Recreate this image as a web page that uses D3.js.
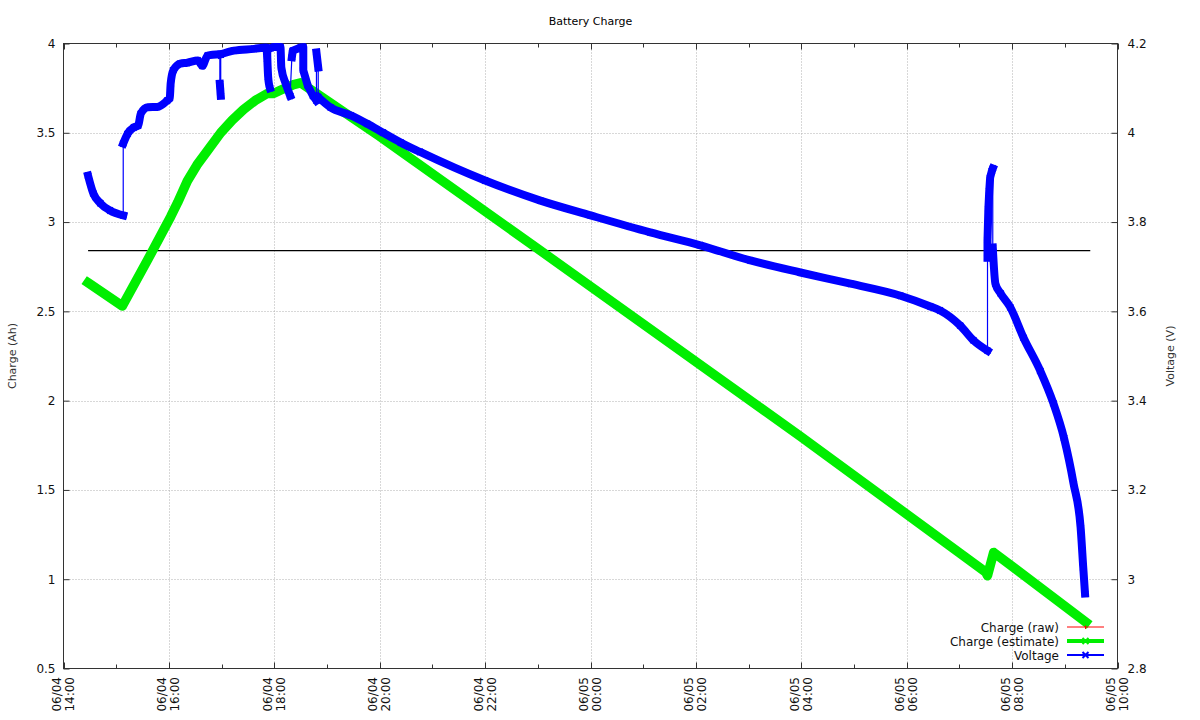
<!DOCTYPE html>
<html><head><meta charset="utf-8">
<script src="https://cdn.jsdelivr.net/npm/d3@7"></script>
<style>body{margin:0;background:#fff} svg{display:block} text{font-family:"DejaVu Sans",sans-serif}</style>
</head><body><svg id="c" width="1200" height="720"></svg>
<script>
// ---------- DATA ----------
const title = "Battery Charge";
const leftLabel = "Charge (Ah)";
const rightLabel = "Voltage (V)";
const leftTicks = [0.5, 1, 1.5, 2, 2.5, 3, 3.5, 4];
const rightTicks = [2.8, 3, 3.2, 3.4, 3.6, 3.8, 4, 4.2];
const xStart = "06/04 14:00";
const xEnd = "06/05 10:00";
const seriesNames = ["Charge (raw)", "Charge (estimate)", "Voltage"];

const rawTimes = ["06/04 14:28", "06/04 18:00", "06/04 22:00", "06/05 02:00", "06/05 06:00", "06/05 09:29"];
const rawCharge = [2.84, 2.84, 2.84, 2.84, 2.84, 2.84];

const estTimes = ["06/04 14:28","06/04 15:07","06/04 15:36","06/04 16:02","06/04 16:10","06/04 16:21","06/04 16:32","06/04 16:44","06/04 16:59","06/04 17:12","06/04 17:25","06/04 17:38","06/04 17:52","06/04 17:59","06/04 18:10","06/04 18:22","06/04 18:30","06/04 20:00","06/04 23:03","06/05 03:59","06/05 07:30","06/05 07:32","06/05 07:39","06/05 09:24"];
const estCharge = [2.66,2.53,2.79,3.03,3.11,3.23,3.32,3.40,3.50,3.57,3.63,3.68,3.72,3.72,3.745,3.77,3.78,3.48,2.84,1.80,1.04,1.02,1.15,0.76];

const voltTimes = [
 "06/04 14:28","06/04 14:34","06/04 14:42","06/04 14:53","06/04 15:08",
 "06/04 15:08","06/04 15:13","06/04 15:20","06/04 15:25","06/04 15:28","06/04 15:36","06/04 15:47","06/04 15:58","06/04 16:01","06/04 16:02","06/04 16:05","06/04 16:13","06/04 16:21","06/04 16:33","06/04 16:38","06/04 16:44","06/04 16:58",
 "06/04 16:58","06/04 16:59",
 "06/04 16:59","06/04 17:14","06/04 17:37","06/04 17:51","06/04 17:52","06/04 17:53","06/04 17:55",
 "06/04 17:56","06/04 18:00","06/04 18:07","06/04 18:08","06/04 18:13","06/04 18:18",
 "06/04 18:20","06/04 18:21","06/04 18:30","06/04 18:33","06/04 18:33","06/04 18:38","06/04 18:44","06/04 18:48",
 "06/04 18:48","06/04 18:50",
 "06/04 18:50","06/04 19:04","06/04 19:27","06/04 19:46","06/04 20:04","06/04 20:24","06/04 20:46","06/04 22:00","06/04 23:03","06/05 00:00","06/05 01:08","06/05 02:05","06/05 03:02","06/05 03:59","06/05 04:56","06/05 05:53","06/05 06:27","06/05 06:38","06/05 07:01","06/05 07:16","06/05 07:32",
 "06/05 07:32","06/05 07:32","06/05 07:33","06/05 07:34","06/05 07:35","06/05 07:37","06/05 07:38",
 "06/05 07:38","06/05 07:41","06/05 07:47","06/05 07:58","06/05 08:13","06/05 08:32","06/05 08:47","06/05 08:59","06/05 09:10","06/05 09:18","06/05 09:21","06/05 09:23"
];
const voltValues = [
 3.904,3.864,3.842,3.826,3.815,
 3.976,3.998,4.012,4.016,4.043,4.057,4.058,4.072,4.078,4.110,4.140,4.155,4.157,4.162,4.150,4.173,4.176,
 4.110,4.083,
 4.176,4.184,4.188,4.191,4.165,4.125,4.100,
 4.190,4.192,4.192,4.146,4.110,4.083,
 4.169,4.184,4.191,4.192,4.140,4.106,4.083,4.072,
 4.180,4.146,
 4.080,4.057,4.039,4.020,4.000,3.978,3.957,3.893,3.848,3.815,3.777,3.748,3.714,3.687,3.662,3.635,3.611,3.602,3.568,3.535,3.512,
 3.720,3.760,3.830,3.870,3.900,3.915,3.920,
 3.743,3.662,3.640,3.609,3.541,3.467,3.394,3.317,3.214,3.116,3.026,2.968
];
// indices where a new burst of samples begins (gap before it)
const voltBreaks = [5,22,24,31,37,45,47,68,75];

// ---------- CHART ----------
const parse = d3.timeParse("%m/%d %H:%M");
const L = 63.5, R = 1117.5, T = 43.5, B = 668.5;
const x = d3.scaleTime().domain([parse(xStart), parse(xEnd)]).range([L, R]);
const yL = d3.scaleLinear().domain([0.5, 4]).range([B, T]);
const yR = d3.scaleLinear().domain([2.8, 4.2]).range([B, T]);
const svg = d3.select("#c");
const BLUE = "#0000ff", GREEN = "#00ee00";

const raw = rawTimes.map((t, i) => ({t: parse(t), v: rawCharge[i]}));
const est = estTimes.map((t, i) => ({t: parse(t), v: estCharge[i]}));
const volt = voltTimes.map((t, i) => ({t: parse(t), v: voltValues[i]}));

const majorT = d3.timeHour.every(2).range(parse(xStart), d3.timeMinute.offset(parse(xEnd), 1));
const minorT = d3.timeHour.every(1).range(parse(xStart), d3.timeMinute.offset(parse(xEnd), 1));

// grid
const grid = svg.append("g").attr("stroke", "#b0b0b0").attr("stroke-width", 1).attr("stroke-dasharray", "1,2");
majorT.slice(1, -1).forEach(d => grid.append("line").attr("x1", Math.round(x(d)) + 0.5).attr("x2", Math.round(x(d)) + 0.5).attr("y1", T).attr("y2", B));
leftTicks.slice(1, -1).forEach(v => grid.append("line").attr("x1", L).attr("x2", R).attr("y1", Math.round(yL(v)) + 0.5).attr("y2", Math.round(yL(v)) + 0.5));

// frame
svg.append("rect").attr("x", L).attr("y", T).attr("width", R - L).attr("height", B - T)
  .attr("fill", "none").attr("stroke", "#333").attr("stroke-width", 1);

// x ticks (bottom and mirrored top)
const tk = svg.append("g").attr("stroke", "#333").attr("stroke-width", 1);
minorT.forEach(d => {
  const isMajor = d.getHours() % 2 === 0;
  const len = isMajor ? 6 : 4;
  const xx = Math.round(x(d)) + 0.5;
  tk.append("line").attr("x1", xx).attr("x2", xx).attr("y1", B).attr("y2", B - len);
  tk.append("line").attr("x1", xx).attr("x2", xx).attr("y1", T).attr("y2", T + len);
});

// x labels
const fmtD = d3.timeFormat("%m/%d"), fmtH = d3.timeFormat("%H:%M");
majorT.forEach(d => {
  const g = svg.append("text").attr("transform", `translate(${x(d)},677) rotate(-90)`)
    .attr("text-anchor", "end").attr("font-size", 12).attr("fill", "#111");
  g.append("tspan").attr("x", 0).attr("y", -2.5).text(fmtD(d));
  g.append("tspan").attr("x", 0).attr("y", 10.5).text(fmtH(d));
});

// y axes
const axL = svg.append("g").attr("transform", `translate(${L},0)`)
  .call(d3.axisLeft(yL).tickValues(leftTicks).tickSize(-6).tickPadding(8).tickFormat(d3.format("~g")));
const axR = svg.append("g").attr("transform", `translate(${R},0)`)
  .call(d3.axisRight(yR).tickValues(rightTicks).tickSize(-6).tickPadding(10).tickFormat(d3.format("~g")));
[axL, axR].forEach(a => {
  a.select(".domain").remove();
  a.selectAll("line").attr("stroke", "#333");
  a.selectAll("text").attr("font-size", 12).attr("font-family", "DejaVu Sans").attr("fill", "#111");
});

// title and axis labels
svg.append("text").attr("x", (L + R) / 2).attr("y", 25).attr("text-anchor", "middle")
  .attr("font-size", 11).attr("fill", "#000").text(title);
svg.append("text").attr("transform", `translate(16,${(T + B) / 2}) rotate(-90)`).attr("text-anchor", "middle")
  .attr("font-size", 11).attr("fill", "#333").text(leftLabel);
svg.append("text").attr("transform", `translate(1174,${(T + B) / 2}) rotate(-90)`).attr("text-anchor", "middle")
  .attr("font-size", 11).attr("fill", "#333").text(rightLabel);

// series
const lineL = d3.line().x(d => x(d.t)).y(d => yL(d.v));
const lineR = d3.line().x(d => x(d.t)).y(d => yR(d.v));
const isStrict = s => s.every((d, i) => i === 0 || d.t > s[i - 1].t);

svg.append("path").datum(raw).attr("d", lineL).attr("fill", "none").attr("stroke", "#000").attr("stroke-width", 1.3);

svg.append("path").datum(est).attr("d", lineL).attr("fill", "none").attr("stroke", GREEN)
  .attr("stroke-width", 9.5).attr("stroke-linejoin", "round").attr("stroke-linecap", "square");

// voltage: thin line through everything, thick band for each sampling burst
svg.append("path").datum(volt).attr("d", lineR).attr("fill", "none").attr("stroke", BLUE).attr("stroke-width", 1.2);
const bounds = [0, ...voltBreaks, volt.length];
for (let i = 0; i < bounds.length - 1; i++) {
  const seg = volt.slice(bounds[i], bounds[i + 1]);
  const gen = d3.line().x(d => x(d.t)).y(d => yR(d.v)).curve(isStrict(seg) ? d3.curveMonotoneX : d3.curveLinear);
  svg.append("path").datum(seg).attr("d", gen).attr("fill", "none").attr("stroke", BLUE)
    .attr("stroke-width", 8).attr("stroke-linejoin", "round").attr("stroke-linecap", "square");
}
const xMark = "M-3,-3L3,3M-3,3L3,-3";
svg.append("g").selectAll("path").data(volt).join("path")
  .attr("transform", d => `translate(${x(d.t)},${yR(d.v)})`).attr("d", xMark)
  .attr("stroke", BLUE).attr("stroke-width", 2).attr("fill", "none");

// legend
const leg = svg.append("g");
const legY = [627, 641, 655];
const legColors = ["#ff0000", GREEN, BLUE];
const legW = [1, 4, 2];
seriesNames.forEach((n, i) => {
  leg.append("text").attr("x", 1059).attr("y", legY[i] + 4.5).attr("text-anchor", "end")
    .attr("font-size", 12).attr("fill", "#111").text(n);
  leg.append("line").attr("x1", 1067).attr("x2", 1104).attr("y1", legY[i]).attr("y2", legY[i])
    .attr("stroke", legColors[i]).attr("stroke-width", legW[i]);
  if (i === 0) {
    leg.append("line").attr("x1", 1085.5).attr("x2", 1085.5).attr("y1", legY[i] - 1.5).attr("y2", legY[i] + 2)
      .attr("stroke", "#ff0000").attr("stroke-width", 1);
  } else {
    leg.append("path").attr("transform", `translate(1085.5,${legY[i]})`).attr("d", xMark)
      .attr("stroke", legColors[i]).attr("stroke-width", 2).attr("fill", "none");
  }
});
</script>
</body></html>
